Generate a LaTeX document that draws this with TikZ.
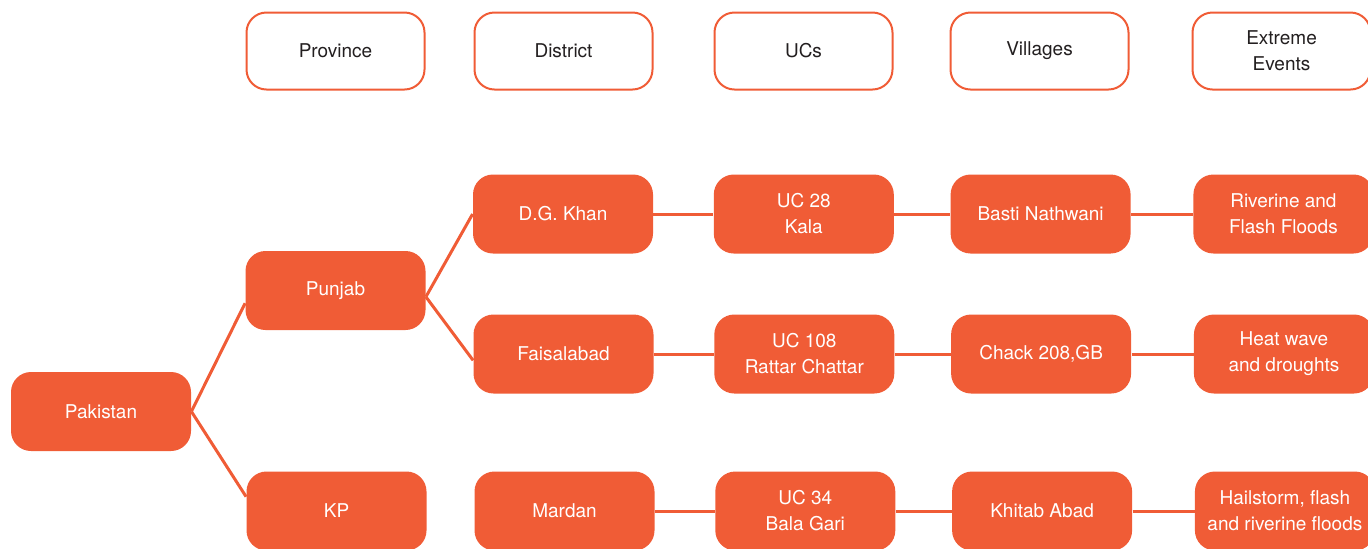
\documentclass[tikz,border=0pt]{standalone}
\usepackage{fontspec}
\setmainfont{TeX Gyre Heros}
\usetikzlibrary{positioning}
\definecolor{ucorange}{RGB}{240,92,54}
\definecolor{ucdark}{RGB}{35,31,32}

\begin{document}
\begin{tikzpicture}[x=0.5pt, y=-0.5pt,
  every node/.style={font=\fontsize{9.5}{13}\selectfont, align=center},
  headbox/.style={rectangle, rounded corners=10pt, draw=ucorange, line width=1pt,
    fill=white, text=ucdark, minimum width=89pt, minimum height=38.5pt},
  fillbox/.style={rectangle, rounded corners=10pt, fill=ucorange, text=white,
    minimum width=90pt, minimum height=39.5pt},
  link/.style={draw=ucorange, line width=1.5pt},
  node distance=30pt]
  \useasboundingbox (0,0) rectangle (1368,548);

  % header row
  \node[headbox] (Province) at (335.5,51) {Province};
  \node[headbox, right=24pt of Province] (District) {District};
  \node[headbox, right=of District] (UCs) {UCs};
  \node[headbox, right=28pt of UCs] (Villages) {Villages};
  \node[headbox, right=31pt of Villages] (Events) {Extreme\\Events};

  % tree
  \node[fillbox] (Pakistan) at (101,411.5) {Pakistan};
  \node[fillbox] (Punjab) at (335.5,290.5) {Punjab};
  \node[fillbox] (KP) at (336.5,511) {KP};

  \node[fillbox] (DGKhan) at (563,214) {D.G. Khan};
  \node[fillbox, right=of DGKhan] (UCKala) {UC 28\\Kala};
  \node[fillbox, right=28pt of UCKala] (Basti) {Basti Nathwani};
  \node[fillbox, right=31pt of Basti] (FloodsA) {Riverine and\\Flash Floods};

  \node[fillbox] (Faisalabad) at (563.5,354) {Faisalabad};
  \node[fillbox, right=of Faisalabad] (UCRattar) {UC 108\\Rattar Chattar};
  \node[fillbox, right=28pt of UCRattar] (Chack) {Chack 208,GB};
  \node[fillbox, right=31pt of Chack] (HeatA) {Heat wave\\and droughts};

  \node[fillbox] (Mardan) at (564.5,511) {Mardan};
  \node[fillbox, right=of Mardan] (UCBala) {UC 34\\Bala Gari};
  \node[fillbox, right=28pt of UCBala] (Khitab) {Khitab Abad};
  \node[fillbox, right=31pt of Khitab] (HailA) {Hailstorm, flash\\and riverine floods};

  \path[link]
  (Pakistan.east) edge (Punjab.188)
  (Pakistan.east) edge (KP.171)
  (Punjab.-4) edge (DGKhan.west)
  (Punjab.-4) edge (Faisalabad.184)
  (DGKhan) edge (UCKala)
  (UCKala) edge (Basti)
  (Basti) edge (FloodsA)
  (Faisalabad) edge (UCRattar)
  (UCRattar) edge (Chack)
  (Chack) edge (HeatA)
  (Mardan) edge (UCBala)
  (UCBala) edge (Khitab)
  (Khitab) edge (HailA);
\end{tikzpicture}
\end{document}
